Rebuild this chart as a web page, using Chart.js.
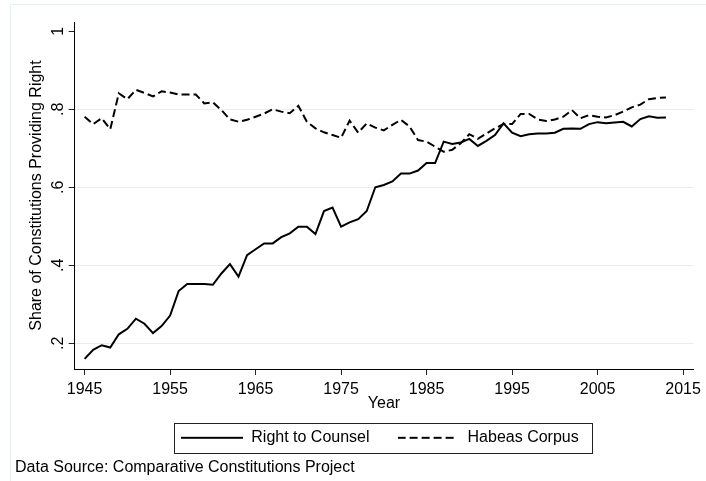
<!DOCTYPE html>
<html><head><meta charset="utf-8">
<script src="https://cdn.jsdelivr.net/npm/chart.js@4"></script>
<style>html,body{margin:0;padding:0;background:#fff}#wrap{width:706px;height:481px}</style>
</head><body><div id="wrap"><canvas id="c" width="706" height="481"></canvas></div>
<script>
const years = [1945,1946,1947,1948,1949,1950,1951,1952,1953,1954,1955,1956,1957,1958,1959,1960,1961,1962,1963,1964,1965,1966,1967,1968,1969,1970,1971,1972,1973,1974,1975,1976,1977,1978,1979,1980,1981,1982,1983,1984,1985,1986,1987,1988,1989,1990,1991,1992,1993,1994,1995,1996,1997,1998,1999,2000,2001,2002,2003,2004,2005,2006,2007,2008,2009,2010,2011,2012,2013];
const rightToCounsel = [0.160,0.183,0.195,0.189,0.223,0.237,0.263,0.250,0.226,0.244,0.271,0.334,0.352,0.352,0.352,0.350,0.379,0.403,0.371,0.426,0.441,0.456,0.456,0.472,0.482,0.499,0.499,0.480,0.539,0.548,0.499,0.510,0.518,0.539,0.600,0.606,0.615,0.635,0.635,0.643,0.662,0.662,0.717,0.711,0.715,0.724,0.706,0.719,0.734,0.764,0.740,0.731,0.736,0.738,0.738,0.740,0.750,0.751,0.750,0.762,0.767,0.764,0.766,0.768,0.756,0.775,0.782,0.778,0.779];
const habeasCorpus = [0.781,0.762,0.777,0.749,0.841,0.826,0.850,0.842,0.833,0.846,0.843,0.838,0.838,0.838,0.815,0.818,0.798,0.774,0.768,0.773,0.781,0.789,0.800,0.794,0.790,0.809,0.768,0.751,0.741,0.734,0.727,0.771,0.740,0.764,0.753,0.746,0.760,0.773,0.756,0.721,0.717,0.704,0.691,0.696,0.713,0.736,0.724,0.738,0.751,0.762,0.762,0.788,0.788,0.774,0.770,0.774,0.781,0.798,0.777,0.785,0.781,0.779,0.785,0.794,0.805,0.812,0.826,0.829,0.830];
const xTickValues = [1945,1955,1965,1975,1985,1995,2005,2015];
const yTickValues = [0.2,0.4,0.6,0.8,1];
const yTickLabels = ['.2','.4','.6','.8','1'];

Chart.defaults.font.family = '"Liberation Sans", Arial, sans-serif';
Chart.defaults.font.size = 16;
Chart.defaults.color = '#000';

function lineSample(dash, len) {
  const c = document.createElement('canvas');
  c.width = 62; c.height = 4;
  const g = c.getContext('2d');
  g.strokeStyle = '#000'; g.lineWidth = 2; g.setLineDash(dash);
  g.beginPath(); g.moveTo(0, 2); g.lineTo(len, 2); g.stroke();
  return c;
}
const solidSample = lineSample([], 62);
const dashSample = lineSample([8, 4], 56);

const extras = {
  id: 'extras',
  afterLayout(chart) {
    chart.legend.left -= 4;
    chart.legend.right -= 4;
  },
  beforeDraw(chart) {
    const ctx = chart.ctx;
    ctx.save();
    ctx.strokeStyle = '#e8efef';
    ctx.lineWidth = 1;
    ctx.beginPath();
    ctx.moveTo(10, 4.5); ctx.lineTo(706, 4.5);
    ctx.moveTo(10.5, 4.5); ctx.lineTo(10.5, 481);
    ctx.stroke();
    ctx.restore();
  },
  afterDraw(chart) {
    const ctx = chart.ctx;
    const ys = chart.scales.y;
    ctx.save();
    ctx.fillStyle = '#000';
    ctx.font = '16px "Liberation Sans", Arial, sans-serif';
    ys.ticks.forEach(t => {
      const idx = yTickValues.indexOf(t.value);
      if (idx < 0) return;
      const py = ys.getPixelForValue(t.value);
      ctx.save();
      ctx.translate(59, py);
      ctx.rotate(-Math.PI / 2);
      ctx.textAlign = 'center';
      ctx.textBaseline = 'middle';
      ctx.fillText(yTickLabels[idx], 0, 0);
      ctx.restore();
    });
    const hb = chart.legend.legendHitBoxes;
    if (hb && hb.length) {
      const l = hb[0].left - 7;
      const last = hb[hb.length - 1];
      const r = last.left + last.width + 14;
      const cy = hb[0].top + hb[0].height / 2;
      ctx.strokeStyle = '#222';
      ctx.lineWidth = 1;
      ctx.strokeRect(Math.round(l) + 0.5, Math.round(cy - 15) + 0.5, Math.round(r - l), 30);
    }
    ctx.restore();
  }
};

new Chart(document.getElementById('c'), {
  type: 'line',
  data: {
    datasets: [
      { label: 'Right to Counsel', data: years.map((y, i) => ({ x: y, y: rightToCounsel[i] })),
        borderColor: '#000', backgroundColor: '#000', borderWidth: 2, pointRadius: 0, pointStyle: solidSample, tension: 0, fill: false },
      { label: 'Habeas Corpus', data: years.map((y, i) => ({ x: y, y: habeasCorpus[i] })),
        borderColor: '#000', backgroundColor: '#000', borderWidth: 2, borderDash: [8, 4], pointRadius: 0, pointStyle: dashSample, tension: 0, fill: false }
    ]
  },
  options: {
    responsive: false, animation: false, devicePixelRatio: 1,
    layout: { padding: { left: 15, right: 9, top: 22, bottom: 4 } },
    scales: {
      x: {
        type: 'linear', min: 1943.84, max: 2016.2,
        afterBuildTicks: s => { s.ticks = xTickValues.map(v => ({ value: v })); },
        ticks: { color: '#000', padding: 5, maxRotation: 0, autoSkip: false, callback: v => String(v) },
        grid: { display: true, drawOnChartArea: false, tickLength: 6, tickColor: '#222' },
        border: { color: '#000', width: 1 },
        title: { display: true, text: 'Year', color: '#000', padding: { top: 0, bottom: -11.8 } },
        afterFit: s => { s.height = 32.8; }
      },
      y: {
        min: 0.134, max: 1.0238,
        afterBuildTicks: s => { s.ticks = yTickValues.map(v => ({ value: v })); },
        ticks: { display: false },
        grid: { color: c => (c.tick && c.tick.value === 1) ? 'rgba(0,0,0,0)' : '#e6eeef', tickLength: 6, tickColor: '#222' },
        border: { color: '#000', width: 1 },
        title: { display: true, text: 'Share of Constitutions Providing Right', color: '#000', padding: { top: 12.4, bottom: 0 } },
        afterFit: s => { s.width = 74.7 - 15; }
      }
    },
    plugins: {
      legend: { position: 'bottom', fullSize: false,
        labels: { usePointStyle: true, pointStyleWidth: 62, padding: 28, color: '#000' } },
      title: { display: true, position: 'bottom', align: 'start', text: 'Data Source: Comparative Constitutions Project',
        color: '#000', font: { size: 16, weight: 'normal' }, padding: { top: 2, bottom: 0 } },
      tooltip: { enabled: false }
    }
  },
  plugins: [extras]
});
</script>
</body></html>
